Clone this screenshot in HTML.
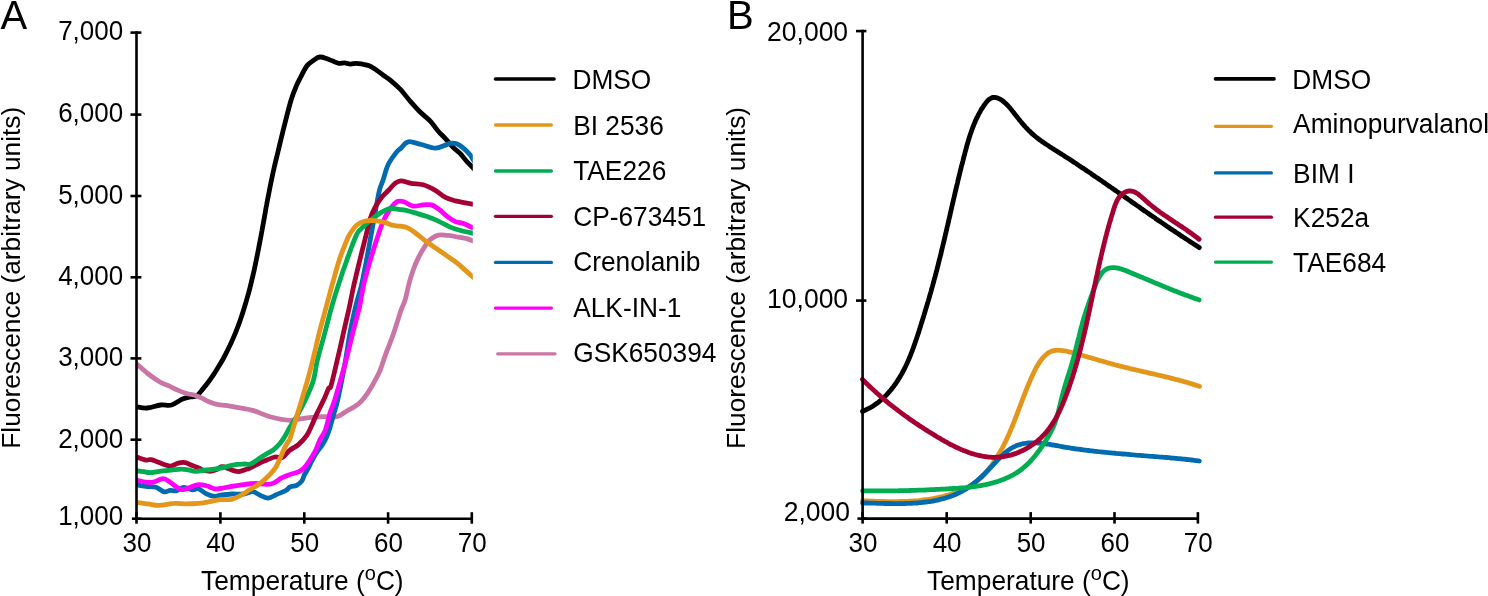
<!DOCTYPE html>
<html><head><meta charset="utf-8"><style>
html,body{margin:0;padding:0;background:#fff;}
body{width:1488px;height:596px;overflow:hidden;}
svg{display:block;will-change:transform;}
text{font-family:"Liberation Sans",sans-serif;fill:#000;}
</style></head><body>
<svg width="1488" height="596" viewBox="0 0 1488 596">
<rect width="1488" height="596" fill="#fff"/>

<g fill="none" stroke-linejoin="round" stroke-linecap="butt">
<clipPath id="ca"><rect x="130" y="0" width="342.8" height="596"/></clipPath>
<g clip-path="url(#ca)">
<path d="M136.5,406.7 C138.2,406.9 143.0,408.3 147.0,408.0 C151.0,407.7 156.5,405.5 160.6,405.0 C164.7,404.5 167.9,406.0 171.6,405.0 C175.2,404.0 179.4,400.3 182.5,399.0 C185.6,397.7 187.7,397.5 190.0,397.0 C192.3,396.5 194.4,397.3 196.5,396.0 C198.6,394.7 200.6,391.7 202.5,389.4 C204.4,387.1 206.4,384.6 208.2,382.2 C210.0,379.8 211.7,377.3 213.4,374.8 C215.1,372.3 216.6,369.8 218.2,367.2 C219.8,364.6 221.4,362.1 222.8,359.5 C224.2,356.9 225.6,354.2 226.9,351.6 C228.2,349.0 229.6,346.3 230.8,343.6 C232.1,340.9 233.2,338.1 234.4,335.4 C235.6,332.7 236.6,330.0 237.7,327.2 C238.8,324.4 239.7,321.6 240.7,318.8 C241.7,316.0 242.6,313.2 243.5,310.3 C244.4,307.4 245.2,304.6 246.1,301.7 C246.9,298.8 247.8,296.0 248.6,293.1 C249.4,290.2 250.1,287.3 250.8,284.4 C251.5,281.5 252.2,278.6 252.9,275.6 C253.6,272.7 254.3,269.6 254.9,266.7 C255.5,263.8 256.1,260.8 256.7,257.9 C257.3,254.9 257.9,252.0 258.5,249.0 C259.1,246.0 259.6,243.1 260.2,240.1 C260.8,237.1 261.3,234.1 261.9,231.1 C262.4,228.1 263.0,225.2 263.5,222.2 C264.0,219.2 264.6,216.3 265.1,213.3 C265.6,210.3 266.1,207.4 266.7,204.4 C267.2,201.4 267.8,198.4 268.4,195.5 C269.0,192.6 269.5,189.6 270.1,186.7 C270.7,183.8 271.3,180.8 271.9,177.9 C272.5,175.0 273.1,172.1 273.8,169.2 C274.5,166.3 275.1,163.5 275.8,160.6 C276.5,157.7 276.6,157.5 278.0,151.7 C279.4,145.9 282.1,134.4 284.3,125.8 C286.5,117.2 289.1,106.5 291.1,100.0 C293.1,93.5 294.5,90.2 296.1,86.5 C297.7,82.8 298.7,81.0 300.5,77.5 C302.3,74.0 304.8,68.7 307.0,65.8 C309.2,62.9 311.9,61.5 314.0,60.0 C316.1,58.5 317.7,57.2 319.9,57.0 C322.1,56.8 324.9,58.1 327.0,58.8 C329.1,59.5 330.9,60.4 332.8,61.1 C334.8,61.9 336.7,63.0 338.7,63.3 C340.7,63.6 342.7,62.8 344.6,62.9 C346.6,63.0 348.4,64.0 350.4,64.1 C352.3,64.2 354.3,63.3 356.3,63.3 C358.3,63.3 360.1,63.7 362.2,64.1 C364.3,64.5 366.8,64.8 369.2,65.8 C371.6,66.8 373.9,68.4 376.3,70.0 C378.7,71.6 381.0,73.5 383.3,75.2 C385.6,76.9 387.4,77.8 390.2,80.1 C393.0,82.4 396.8,85.7 400.2,89.2 C403.6,92.7 406.9,97.5 410.3,101.3 C413.7,105.1 417.0,108.9 420.4,112.3 C423.8,115.7 427.5,118.2 430.5,121.4 C433.5,124.6 436.0,128.6 438.5,131.5 C441.0,134.4 442.9,135.9 445.4,138.6 C447.9,141.3 450.9,145.1 453.4,147.6 C455.8,150.1 457.9,151.1 460.1,153.4 C462.3,155.7 464.8,159.3 466.8,161.5 C468.8,163.7 470.6,165.2 472.1,166.8 C473.6,168.4 475.4,170.3 476.0,171.0" stroke="#000000" stroke-width="4.8"/>
<path d="M136.5,363.8 C138.4,365.4 143.9,370.5 147.7,373.5 C151.5,376.5 156.0,379.6 159.5,381.7 C163.0,383.8 166.0,384.4 168.9,385.8 C171.8,387.2 174.2,388.6 177.1,389.9 C180.0,391.2 183.6,392.6 186.5,393.5 C189.4,394.4 192.2,394.4 194.8,395.2 C197.4,396.0 199.5,397.1 201.8,398.2 C204.2,399.3 206.2,400.6 208.9,401.7 C211.6,402.8 215.3,404.0 218.2,404.6 C221.0,405.2 222.7,404.9 226.0,405.4 C229.3,405.9 233.7,406.7 238.3,407.6 C242.9,408.5 248.1,409.1 253.4,410.6 C258.7,412.1 263.9,415.1 270.0,416.7 C276.1,418.3 283.9,420.1 290.0,420.3 C296.1,420.5 301.2,418.4 306.8,417.8 C312.4,417.2 318.9,416.8 323.6,416.6 C328.3,416.5 332.1,417.2 335.0,416.9 C337.9,416.6 338.8,415.9 341.0,414.8 C343.2,413.7 345.8,411.7 348.1,410.3 C350.5,408.9 352.9,407.8 355.1,406.3 C357.3,404.8 359.4,403.2 361.2,401.3 C363.0,399.4 364.5,397.6 366.2,395.2 C367.9,392.8 369.6,390.0 371.3,387.2 C373.0,384.4 374.8,381.0 376.3,378.1 C377.8,375.2 378.7,374.0 380.3,369.8 C381.9,365.6 384.2,358.2 386.2,352.8 C388.2,347.4 390.3,342.4 392.1,337.5 C393.9,332.6 395.3,328.0 396.8,323.5 C398.3,319.0 399.5,314.5 400.9,310.6 C402.3,306.7 403.7,304.6 405.1,300.0 C406.5,295.4 407.8,288.3 409.1,283.3 C410.4,278.3 411.6,274.4 413.1,270.2 C414.6,266.0 416.5,261.6 418.2,258.1 C419.9,254.6 421.7,251.6 423.2,249.1 C424.7,246.6 425.8,244.7 427.2,243.0 C428.6,241.3 429.4,240.0 431.3,238.7 C433.2,237.4 435.6,235.8 438.5,235.2 C441.4,234.6 445.2,235.1 448.6,235.4 C452.0,235.7 455.6,236.7 458.6,237.2 C461.6,237.7 464.4,238.0 466.7,238.6 C469.0,239.2 471.1,240.1 472.6,240.7 C474.2,241.3 475.4,241.7 476.0,241.9" stroke="#C975A5" stroke-width="4.8"/>
<path d="M136.5,484.7 C138.1,485.0 142.8,485.9 146.1,486.3 C149.4,486.7 153.1,486.4 156.1,487.3 C159.1,488.2 161.8,491.3 164.2,491.8 C166.5,492.3 168.2,490.5 170.2,490.3 C172.2,490.1 174.1,491.3 176.3,490.8 C178.5,490.3 180.6,487.5 183.3,487.3 C186.0,487.1 189.9,489.6 192.4,489.8 C194.9,490.1 196.1,488.1 198.4,488.8 C200.8,489.5 203.8,492.6 206.5,493.8 C209.2,495.1 212.2,496.1 214.5,496.3 C216.8,496.6 217.1,495.7 220.0,495.3 C222.9,494.9 227.8,494.2 231.7,494.0 C235.6,493.8 240.0,494.4 243.5,494.0 C247.0,493.6 250.2,491.5 252.9,491.7 C255.7,491.9 257.4,494.1 260.0,495.2 C262.6,496.3 265.5,498.2 268.2,498.1 C270.9,498.0 273.5,495.9 276.4,494.6 C279.3,493.3 283.5,491.8 285.8,490.5 C288.1,489.2 288.2,487.9 290.0,487.0 C291.8,486.1 294.8,486.3 296.7,485.3 C298.6,484.3 300.4,482.8 301.7,481.1 C303.0,479.4 303.3,477.1 304.3,475.2 C305.3,473.2 306.4,471.8 307.6,469.4 C308.9,467.0 310.4,463.7 311.8,461.0 C313.2,458.3 314.5,455.8 316.0,453.4 C317.5,451.0 319.5,448.9 321.0,446.7 C322.5,444.5 323.8,442.8 325.2,440.0 C326.6,437.2 327.8,434.2 329.2,430.0 C330.6,425.8 332.2,419.5 333.6,414.5 C335.0,409.5 335.9,408.2 337.7,400.0 C339.5,391.8 342.6,376.7 344.7,365.0 C346.8,353.3 348.6,340.0 350.5,330.0 C352.4,320.0 354.2,312.5 356.0,305.0 C357.8,297.5 359.8,292.5 361.5,285.0 C363.2,277.5 364.9,268.5 366.5,260.2 C368.1,251.9 369.5,243.9 371.1,235.0 C372.7,226.1 374.8,214.3 376.2,206.8 C377.6,199.3 378.4,194.5 379.5,190.0 C380.6,185.5 381.7,184.2 383.1,180.0 C384.5,175.8 385.9,169.3 388.1,164.7 C390.3,160.1 394.1,155.4 396.2,152.6 C398.3,149.8 399.0,149.9 401.0,148.1 C403.0,146.3 404.9,142.4 408.3,141.8 C411.7,141.2 416.7,143.4 421.2,144.5 C425.7,145.6 431.3,148.0 435.3,148.1 C439.3,148.2 442.9,145.9 445.4,145.1 C447.8,144.3 448.1,143.5 450.0,143.3 C451.9,143.1 454.5,142.9 456.7,143.7 C458.9,144.5 461.2,146.2 463.4,148.1 C465.6,149.9 468.5,153.0 470.1,154.8 C471.7,156.6 471.8,157.6 472.8,159.1 C473.8,160.6 475.5,163.2 476.0,164.0" stroke="#006BB0" stroke-width="4.8"/>
<path d="M136.5,480.2 C138.1,480.5 143.3,481.9 146.1,482.2 C148.9,482.5 150.2,482.8 153.1,482.2 C155.9,481.6 160.3,478.7 163.2,478.7 C166.0,478.7 167.7,480.6 170.2,482.2 C172.7,483.8 176.1,487.1 178.3,488.3 C180.5,489.5 181.3,489.7 183.3,489.5 C185.3,489.3 187.9,488.1 190.4,487.3 C192.9,486.5 195.7,484.9 198.4,484.7 C201.1,484.4 203.8,485.1 206.5,485.8 C209.2,486.5 212.2,488.4 214.5,488.8 C216.8,489.2 217.1,488.9 220.0,488.5 C222.9,488.1 227.8,487.0 231.7,486.4 C235.6,485.8 239.6,485.1 243.5,484.6 C247.4,484.1 251.3,483.5 255.2,483.5 C259.1,483.5 263.9,484.5 267.0,484.4 C270.1,484.3 271.6,483.9 274.0,482.9 C276.4,481.9 278.4,479.6 281.1,478.2 C283.8,476.8 287.1,475.4 290.0,474.4 C292.9,473.3 296.0,473.0 298.4,471.9 C300.8,470.8 302.5,469.5 304.3,467.7 C306.1,465.9 307.8,463.2 309.3,461.0 C310.8,458.8 312.2,456.5 313.5,454.3 C314.8,452.1 315.8,450.0 316.8,447.6 C317.9,445.2 318.4,442.9 319.8,440.0 C321.2,437.1 323.6,434.7 325.4,430.0 C327.1,425.3 328.8,417.0 330.3,412.0 C331.9,407.0 332.3,407.8 334.7,400.0 C337.1,392.2 341.6,376.9 344.7,365.2 C347.8,353.5 351.0,340.0 353.5,330.0 C356.0,320.0 358.1,312.9 359.8,305.4 C361.5,297.9 361.9,292.5 363.6,285.0 C365.4,277.5 367.9,268.5 370.3,260.2 C372.7,251.9 376.0,241.7 378.2,235.0 C380.4,228.3 381.7,224.6 383.7,220.2 C385.7,215.8 388.2,211.6 390.4,208.5 C392.6,205.4 395.0,202.9 397.1,201.7 C399.2,200.5 400.4,200.8 403.1,201.5 C405.8,202.2 409.8,205.5 413.1,206.1 C416.5,206.7 420.2,205.1 423.2,204.9 C426.2,204.7 428.6,204.1 431.3,204.9 C434.0,205.7 436.6,207.6 439.3,209.5 C442.0,211.4 444.7,214.6 447.4,216.6 C450.1,218.6 452.8,220.4 455.5,221.6 C458.2,222.8 460.7,222.6 463.5,223.6 C466.3,224.6 470.2,226.7 472.3,227.6 C474.4,228.5 475.4,229.0 476.0,229.3" stroke="#FF00FF" stroke-width="4.8"/>
<path d="M136.5,457.0 C138.1,457.5 143.7,459.7 146.1,460.1 C148.5,460.5 148.9,459.2 151.1,459.6 C153.3,460.0 156.0,461.5 159.2,462.6 C162.4,463.7 167.0,466.0 170.2,466.1 C173.4,466.2 175.8,463.7 178.3,463.1 C180.8,462.5 183.0,462.2 185.3,462.6 C187.7,463.0 190.4,464.8 192.4,465.6 C194.4,466.4 195.3,466.5 197.1,467.2 C198.9,467.9 200.8,469.3 203.0,470.0 C205.2,470.7 207.8,471.3 210.0,471.3 C212.2,471.3 214.0,470.6 216.0,469.8 C218.0,469.0 220.0,466.9 222.0,466.7 C224.0,466.5 226.2,467.8 228.0,468.4 C229.8,469.0 231.2,470.0 233.0,470.5 C234.8,471.0 237.0,471.7 239.0,471.6 C241.0,471.5 243.3,470.3 245.0,469.7 C246.7,469.1 247.1,469.2 249.4,468.2 C251.7,467.2 255.9,464.9 258.8,463.5 C261.7,462.1 264.3,461.1 267.0,460.0 C269.7,458.9 272.6,457.4 275.2,457.0 C277.8,456.6 279.9,458.7 282.3,457.6 C284.7,456.5 286.6,452.8 289.3,450.6 C292.0,448.4 295.5,447.1 298.4,444.6 C301.3,442.1 304.6,438.6 306.8,435.4 C309.0,432.2 310.1,428.9 311.8,425.3 C313.5,421.7 314.9,417.8 316.9,413.6 C318.9,409.4 321.7,404.3 323.6,400.1 C325.6,395.9 327.3,390.9 328.6,388.4 C329.9,385.9 329.5,390.9 331.2,385.1 C332.9,379.3 336.6,362.7 338.8,353.5 C341.0,344.3 342.3,338.0 344.1,330.0 C345.9,322.0 348.1,312.9 349.7,305.4 C351.3,297.9 352.2,292.5 353.9,285.0 C355.6,277.5 357.8,268.5 359.8,260.2 C361.8,251.9 364.4,241.9 366.1,235.0 C367.9,228.1 368.8,223.2 370.3,218.5 C371.8,213.8 373.3,210.4 375.3,206.8 C377.3,203.2 379.9,199.5 382.1,196.7 C384.4,193.9 386.7,192.2 388.8,190.0 C390.9,187.8 393.0,184.9 395.0,183.4 C397.0,181.9 398.3,180.8 401.0,180.8 C403.7,180.8 407.4,182.7 411.1,183.4 C414.8,184.1 419.2,183.6 423.2,184.8 C427.2,186.0 431.6,188.3 435.3,190.4 C439.0,192.5 442.0,195.7 445.4,197.4 C448.8,199.2 452.1,200.0 455.5,200.9 C458.9,201.8 462.7,202.4 465.5,202.9 C468.3,203.4 470.6,203.8 472.3,204.1 C474.1,204.4 475.4,204.6 476.0,204.8" stroke="#A50034" stroke-width="4.8"/>
<path d="M136.5,470.6 C137.8,470.8 141.7,471.4 144.0,471.7 C146.3,472.0 147.2,472.8 150.1,472.7 C153.0,472.6 157.7,471.5 161.2,471.1 C164.7,470.7 167.8,470.4 171.2,470.1 C174.5,469.8 178.3,469.1 181.3,469.1 C184.3,469.1 187.1,469.7 189.4,470.1 C191.7,470.5 192.7,471.4 195.0,471.4 C197.3,471.4 200.6,470.6 203.4,470.3 C206.2,470.0 209.0,469.9 211.8,469.5 C214.6,469.1 217.4,468.8 220.2,468.2 C223.0,467.6 225.8,466.7 228.6,466.1 C231.4,465.5 234.3,464.8 237.0,464.4 C239.7,464.0 242.8,464.1 245.0,464.0 C247.2,463.9 248.2,465.0 250.5,464.1 C252.8,463.2 256.1,460.6 258.8,458.8 C261.6,457.0 264.5,455.1 267.0,453.5 C269.5,451.9 271.9,451.1 274.0,449.4 C276.1,447.7 278.1,445.6 279.9,443.5 C281.6,441.4 282.8,439.8 284.5,437.0 C286.2,434.2 287.7,430.9 290.0,427.0 C292.3,423.1 295.6,418.6 298.4,413.6 C301.2,408.6 304.3,402.4 306.8,396.8 C309.3,391.2 311.7,386.1 313.5,380.0 C315.3,373.9 315.5,367.8 317.4,360.0 C319.3,352.2 322.4,342.1 324.8,333.0 C327.2,323.9 329.8,313.4 332.1,305.4 C334.4,297.4 335.9,292.5 338.4,285.0 C340.8,277.5 343.8,268.5 346.8,260.2 C349.8,251.9 353.9,240.3 356.4,235.0 C358.8,229.7 359.5,230.7 361.5,228.5 C363.5,226.3 366.0,224.1 368.6,221.9 C371.2,219.7 374.2,217.2 377.0,215.2 C379.8,213.2 382.9,211.2 385.4,210.1 C387.9,209.0 389.7,208.6 392.1,208.5 C394.5,208.4 397.8,209.3 400.0,209.6 C402.2,209.9 402.6,209.5 405.1,210.1 C407.6,210.7 411.5,211.8 415.2,212.9 C418.9,214.0 423.2,215.2 427.2,216.6 C431.2,218.0 435.3,219.8 439.3,221.6 C443.3,223.4 447.7,226.1 451.4,227.6 C455.1,229.1 458.0,229.8 461.5,230.7 C465.0,231.6 469.9,232.6 472.3,233.1 C474.7,233.6 475.4,233.8 476.0,233.9" stroke="#00AD50" stroke-width="4.8"/>
<path d="M136.5,502.4 C138.4,502.6 144.3,503.4 148.1,503.9 C151.9,504.4 154.8,505.5 159.2,505.4 C163.6,505.3 169.8,503.6 174.3,503.4 C178.8,503.1 182.4,503.9 186.4,503.9 C190.4,503.9 194.7,503.7 198.4,503.4 C202.1,503.1 204.9,502.5 208.5,501.9 C212.1,501.3 216.1,500.0 220.0,499.6 C223.9,499.2 228.2,500.0 231.7,499.3 C235.2,498.6 238.0,496.9 241.1,495.2 C244.2,493.5 247.3,491.2 250.5,489.3 C253.7,487.4 256.9,485.9 260.0,483.5 C263.1,481.1 266.8,477.8 269.3,475.2 C271.8,472.6 273.4,470.9 275.2,468.2 C277.0,465.5 278.5,461.7 279.9,458.8 C281.3,455.9 282.2,453.2 283.4,450.6 C284.6,448.1 285.9,445.5 287.0,443.5 C288.1,441.5 288.7,442.3 290.0,438.7 C291.3,435.1 293.3,427.6 295.0,422.0 C296.7,416.4 298.4,410.8 300.1,405.2 C301.8,399.6 303.9,392.6 305.1,388.4 C306.4,384.2 306.3,384.7 307.6,380.0 C308.9,375.3 310.9,367.8 312.8,360.0 C314.7,352.2 316.9,342.1 319.2,333.0 C321.5,323.9 324.5,313.4 326.6,305.4 C328.8,297.4 330.0,292.5 332.1,285.0 C334.2,277.5 337.1,266.7 339.2,260.2 C341.3,253.7 342.8,250.2 344.5,246.0 C346.2,241.8 347.2,238.5 349.3,235.0 C351.4,231.5 354.2,227.3 356.9,225.0 C359.6,222.7 362.2,221.7 365.3,221.0 C368.4,220.3 372.0,220.4 375.3,220.7 C378.6,221.0 382.6,221.9 385.4,222.7 C388.2,223.4 389.7,224.6 392.1,225.2 C394.5,225.8 397.5,225.7 400.0,226.1 C402.5,226.5 404.6,226.5 407.1,227.6 C409.6,228.7 412.2,230.5 415.2,232.7 C418.2,234.9 421.8,238.2 425.2,240.7 C428.6,243.2 431.7,245.3 435.3,247.8 C438.9,250.3 443.1,253.1 446.6,255.6 C450.2,258.1 453.6,260.2 456.6,262.6 C459.6,265.0 462.1,267.4 464.7,269.7 C467.3,272.0 470.4,274.8 472.3,276.5 C474.2,278.2 475.4,279.3 476.0,279.8" stroke="#E4961A" stroke-width="4.8"/>
</g>
<path d="M862.5,411.3 C862.9,411.2 864.1,410.7 864.9,410.3 C865.7,410.0 866.4,409.6 867.2,409.2 C868.0,408.8 868.7,408.5 869.5,408.1 C870.2,407.6 870.9,407.2 871.7,406.8 C872.4,406.4 873.1,405.9 873.8,405.5 C874.5,405.0 875.2,404.5 875.9,404.0 C876.6,403.6 877.2,403.1 877.9,402.6 C878.6,402.1 879.2,401.5 879.9,401.0 C880.5,400.5 881.1,399.9 881.8,399.4 C882.4,398.8 883.0,398.3 883.6,397.7 C884.2,397.1 884.8,396.5 885.4,396.0 C886.0,395.4 886.6,394.8 887.1,394.2 C887.7,393.5 888.3,392.9 888.8,392.3 C889.4,391.7 889.9,391.0 890.5,390.4 C891.0,389.8 891.5,389.1 892.1,388.4 C892.6,387.8 893.1,387.1 893.6,386.5 C894.1,385.8 894.6,385.1 895.1,384.4 C895.6,383.7 896.0,383.0 896.5,382.3 C897.0,381.6 897.4,380.9 897.9,380.2 C898.3,379.5 898.8,378.8 899.2,378.1 C899.7,377.4 900.1,376.6 900.5,375.9 C901.0,375.2 901.4,374.5 901.8,373.7 C902.2,373.0 902.6,372.2 903.0,371.5 C903.4,370.8 903.8,370.0 904.2,369.3 C904.5,368.5 904.9,367.8 905.3,367.0 C905.6,366.3 906.0,365.5 906.4,364.7 C906.7,364.0 907.1,363.2 907.4,362.5 C907.8,361.7 908.1,360.9 908.4,360.2 C908.8,359.4 909.1,358.6 909.4,357.8 C909.7,357.1 910.1,356.3 910.4,355.5 C910.7,354.7 911.0,354.0 911.3,353.2 C911.6,352.4 911.9,351.6 912.2,350.8 C912.5,350.0 912.8,349.3 913.1,348.5 C913.4,347.7 913.7,346.9 913.9,346.1 C914.2,345.3 914.5,344.5 914.8,343.7 C915.0,342.9 915.3,342.1 915.6,341.3 C915.9,340.6 916.1,339.8 916.4,339.0 C916.7,338.2 916.9,337.4 917.2,336.6 C917.5,335.8 917.7,335.0 918.0,334.2 C918.2,333.4 918.5,332.6 918.8,331.8 C919.0,331.0 919.3,330.2 919.5,329.4 C919.8,328.6 920.0,327.8 920.3,327.0 C920.5,326.2 920.8,325.4 921.0,324.6 C921.3,323.8 921.5,323.0 921.8,322.2 C922.0,321.4 922.3,320.6 922.5,319.8 C922.8,319.0 923.0,318.2 923.3,317.4 C923.5,316.6 923.8,315.8 924.0,315.0 C924.3,314.2 924.5,313.3 924.8,312.5 C925.0,311.7 925.3,310.9 925.5,310.1 C925.7,309.3 926.0,308.5 926.2,307.7 C926.5,306.9 926.7,306.1 926.9,305.3 C927.2,304.5 927.4,303.7 927.7,302.9 C927.9,302.1 928.1,301.3 928.4,300.5 C928.6,299.7 928.8,298.9 929.1,298.1 C929.3,297.3 929.5,296.4 929.8,295.6 C930.0,294.8 930.2,294.0 930.5,293.2 C930.7,292.4 930.9,291.6 931.2,290.8 C931.4,290.0 931.6,289.2 931.8,288.4 C932.1,287.6 932.3,286.8 932.5,286.0 C932.7,285.1 933.0,284.3 933.2,283.5 C933.4,282.7 933.6,281.9 933.8,281.1 C934.1,280.3 934.3,279.5 934.5,278.7 C934.7,277.9 934.9,277.1 935.2,276.2 C935.4,275.4 935.6,274.6 935.8,273.8 C936.0,273.0 936.2,272.2 936.4,271.4 C936.7,270.6 936.9,269.8 937.1,268.9 C937.3,268.1 937.5,267.3 937.7,266.5 C937.9,265.7 938.1,264.9 938.3,264.1 C938.5,263.3 938.7,262.4 938.9,261.6 C939.1,260.8 939.3,260.0 939.5,259.2 C939.7,258.4 940.0,257.6 940.2,256.7 C940.4,255.9 940.6,255.1 940.8,254.3 C941.0,253.5 941.2,252.7 941.3,251.9 C941.5,251.0 941.7,250.2 941.9,249.4 C942.1,248.6 942.3,247.8 942.5,247.0 C942.7,246.2 942.9,245.3 943.1,244.5 C943.3,243.7 943.5,242.9 943.7,242.1 C943.9,241.3 944.1,240.4 944.3,239.6 C944.5,238.8 944.7,238.0 944.9,237.2 C945.0,236.4 945.2,235.6 945.4,234.7 C945.6,233.9 945.8,233.1 946.0,232.3 C946.2,231.5 946.4,230.7 946.6,229.8 C946.8,229.0 946.9,228.2 947.1,227.4 C947.3,226.6 947.5,225.8 947.7,224.9 C947.9,224.1 948.1,223.3 948.3,222.5 C948.5,221.7 948.6,220.8 948.8,220.0 C949.0,219.2 949.2,218.4 949.4,217.6 C949.6,216.8 949.8,215.9 950.0,215.1 C950.1,214.3 950.3,213.5 950.5,212.7 C950.7,211.9 950.9,211.0 951.1,210.2 C951.3,209.4 951.5,208.6 951.6,207.8 C951.8,207.0 952.0,206.1 952.2,205.3 C952.4,204.5 952.6,203.7 952.8,202.9 C953.0,202.1 953.2,201.2 953.3,200.4 C953.5,199.6 953.7,198.8 953.9,198.0 C954.1,197.1 954.3,196.3 954.5,195.5 C954.7,194.7 954.9,193.9 955.0,193.1 C955.2,192.2 955.4,191.4 955.6,190.6 C955.8,189.8 956.0,189.0 956.2,188.2 C956.4,187.3 956.6,186.5 956.8,185.7 C957.0,184.9 957.2,184.1 957.4,183.3 C957.6,182.4 957.8,181.6 957.9,180.8 C958.1,180.0 958.3,179.2 958.5,178.4 C958.7,177.6 958.9,176.7 959.1,175.9 C959.3,175.1 959.5,174.3 959.7,173.5 C959.9,172.7 960.1,171.8 960.3,171.0 C960.5,170.2 960.7,169.4 960.9,168.6 C961.1,167.8 961.3,167.0 961.5,166.1 C961.7,165.3 962.0,164.5 962.2,163.7 C962.4,162.9 962.6,162.1 962.8,161.3 C963.0,160.4 963.2,159.6 963.4,158.8 C963.6,158.0 963.8,157.2 964.0,156.4 C964.2,155.6 964.5,154.8 964.7,153.9 C964.9,153.1 965.1,152.3 965.3,151.5 C965.5,150.7 965.8,149.9 966.0,149.1 C966.2,148.3 966.4,147.4 966.6,146.6 C966.9,145.8 967.1,145.0 967.3,144.2 C967.5,143.4 967.8,142.6 968.0,141.8 C968.3,141.0 968.5,140.2 968.7,139.4 C969.0,138.6 969.2,137.8 969.5,137.0 C969.7,136.2 970.0,135.4 970.2,134.6 C970.5,133.8 970.8,133.0 971.1,132.2 C971.3,131.4 971.6,130.6 971.9,129.8 C972.2,129.0 972.5,128.2 972.8,127.4 C973.1,126.6 973.4,125.9 973.7,125.1 C974.0,124.3 974.3,123.5 974.7,122.8 C975.0,122.0 975.3,121.2 975.7,120.4 C976.0,119.7 976.4,118.9 976.7,118.1 C977.1,117.4 977.5,116.6 977.9,115.9 C978.2,115.1 978.6,114.3 979.0,113.6 C979.4,112.8 979.9,112.1 980.3,111.4 C980.7,110.6 981.1,109.9 981.6,109.1 C982.0,108.4 982.5,107.7 983.0,106.9 C983.4,106.2 983.9,105.5 984.4,104.8 C984.9,104.1 985.4,103.4 986.0,102.7 C986.5,102.1 987.0,101.4 987.6,100.9 C988.2,100.3 988.7,99.7 989.3,99.3 C989.9,98.8 990.6,98.4 991.2,98.1 C991.8,97.8 992.5,97.6 993.2,97.5 C993.9,97.4 994.6,97.4 995.3,97.5 C996.0,97.5 996.8,97.7 997.5,98.0 C998.3,98.3 999.1,98.6 999.8,99.0 C1000.6,99.4 1001.3,99.9 1002.1,100.4 C1002.8,101.0 1003.5,101.5 1004.2,102.1 C1004.9,102.7 1005.6,103.3 1006.3,104.0 C1006.9,104.6 1007.5,105.2 1008.1,105.9 C1008.7,106.5 1009.3,107.2 1009.8,107.8 C1010.4,108.5 1010.9,109.2 1011.5,109.8 C1012.0,110.5 1012.5,111.2 1013.0,111.8 C1013.6,112.5 1014.1,113.2 1014.6,113.8 C1015.1,114.5 1015.7,115.2 1016.2,115.8 C1016.7,116.5 1017.2,117.1 1017.7,117.8 C1018.3,118.5 1018.8,119.1 1019.3,119.8 C1019.9,120.4 1020.4,121.1 1020.9,121.7 C1021.5,122.4 1022.0,123.0 1022.5,123.6 C1023.1,124.3 1023.6,124.9 1024.2,125.5 C1024.7,126.2 1025.3,126.8 1025.8,127.4 C1026.4,128.0 1027.0,128.6 1027.6,129.2 C1028.1,129.8 1028.7,130.4 1029.3,131.0 C1029.9,131.6 1030.5,132.1 1031.1,132.7 C1031.7,133.3 1032.3,133.8 1033.0,134.4 C1033.6,134.9 1034.2,135.5 1034.9,136.0 C1035.5,136.5 1036.1,137.0 1036.8,137.6 C1037.4,138.1 1038.1,138.6 1038.8,139.1 C1039.4,139.6 1040.1,140.1 1040.8,140.6 C1041.5,141.1 1042.1,141.6 1042.8,142.0 C1043.5,142.5 1044.2,143.0 1044.9,143.5 C1045.6,144.0 1046.3,144.4 1047.0,144.9 C1047.7,145.4 1048.4,145.8 1049.1,146.3 C1049.8,146.7 1050.5,147.2 1051.2,147.6 C1051.9,148.1 1052.6,148.6 1053.4,149.0 C1054.1,149.5 1054.8,149.9 1055.5,150.4 C1056.2,150.8 1056.9,151.3 1057.6,151.7 C1058.3,152.2 1059.1,152.6 1059.8,153.1 C1060.5,153.5 1061.2,154.0 1061.9,154.4 C1062.6,154.9 1063.3,155.3 1064.0,155.8 C1064.7,156.2 1065.4,156.7 1066.1,157.1 C1066.9,157.6 1067.6,158.0 1068.3,158.5 C1069.0,158.9 1069.7,159.4 1070.4,159.9 C1071.1,160.3 1071.8,160.8 1072.5,161.2 C1073.2,161.7 1073.9,162.2 1074.6,162.6 C1075.3,163.1 1076.0,163.5 1076.7,164.0 C1077.4,164.5 1078.1,164.9 1078.8,165.4 C1079.4,165.8 1080.1,166.3 1080.8,166.8 C1081.5,167.2 1082.2,167.7 1082.9,168.2 C1083.6,168.6 1084.3,169.1 1085.0,169.6 C1085.7,170.0 1086.4,170.5 1087.1,171.0 C1087.8,171.4 1088.5,171.9 1089.2,172.4 C1089.9,172.9 1090.6,173.3 1091.3,173.8 C1091.9,174.3 1092.6,174.7 1093.3,175.2 C1094.0,175.7 1094.7,176.2 1095.4,176.6 C1096.1,177.1 1096.8,177.6 1097.5,178.1 C1098.2,178.5 1098.9,179.0 1099.6,179.5 C1100.2,180.0 1100.9,180.4 1101.6,180.9 C1102.3,181.4 1103.0,181.9 1103.7,182.3 C1104.4,182.8 1105.1,183.3 1105.8,183.8 C1106.5,184.2 1107.1,184.7 1107.8,185.2 C1108.5,185.7 1109.2,186.2 1109.9,186.6 C1110.6,187.1 1111.3,187.6 1112.0,188.1 C1112.7,188.5 1113.3,189.0 1114.0,189.5 C1114.7,190.0 1115.4,190.5 1116.1,190.9 C1116.8,191.4 1117.5,191.9 1118.2,192.4 C1118.8,192.9 1119.5,193.3 1120.2,193.8 C1120.9,194.3 1121.6,194.8 1122.3,195.3 C1123.0,195.8 1123.7,196.2 1124.4,196.7 C1125.0,197.2 1125.7,197.7 1126.4,198.2 C1127.1,198.6 1127.8,199.1 1128.5,199.6 C1129.2,200.1 1129.9,200.6 1130.5,201.0 C1131.2,201.5 1131.9,202.0 1132.6,202.5 C1133.3,203.0 1134.0,203.5 1134.7,203.9 C1135.4,204.4 1136.0,204.9 1136.7,205.4 C1137.4,205.9 1138.1,206.3 1138.8,206.8 C1139.5,207.3 1140.2,207.8 1140.9,208.3 C1141.6,208.7 1142.2,209.2 1142.9,209.7 C1143.6,210.2 1144.3,210.7 1145.0,211.1 C1145.7,211.6 1146.4,212.1 1147.1,212.6 C1147.8,213.1 1148.4,213.5 1149.1,214.0 C1149.8,214.5 1150.5,215.0 1151.2,215.5 C1151.9,215.9 1152.6,216.4 1153.3,216.9 C1154.0,217.4 1154.7,217.8 1155.4,218.3 C1156.0,218.8 1156.7,219.3 1157.4,219.7 C1158.1,220.2 1158.8,220.7 1159.5,221.2 C1160.2,221.6 1160.9,222.1 1161.6,222.6 C1162.3,223.1 1163.0,223.5 1163.7,224.0 C1164.4,224.5 1165.0,225.0 1165.7,225.4 C1166.4,225.9 1167.1,226.4 1167.8,226.8 C1168.5,227.3 1169.2,227.8 1169.9,228.3 C1170.6,228.7 1171.3,229.2 1172.0,229.7 C1172.7,230.1 1173.4,230.6 1174.1,231.1 C1174.8,231.5 1175.5,232.0 1176.2,232.5 C1176.9,232.9 1177.6,233.4 1178.3,233.9 C1179.0,234.3 1179.7,234.8 1180.4,235.3 C1181.1,235.7 1181.8,236.2 1182.5,236.6 C1183.2,237.1 1183.9,237.6 1184.6,238.0 C1185.3,238.5 1186.0,238.9 1186.7,239.4 C1187.4,239.9 1188.1,240.3 1188.8,240.8 C1189.5,241.2 1190.2,241.7 1190.9,242.1 C1191.6,242.6 1192.3,243.1 1193.0,243.5 C1193.7,244.0 1194.4,244.4 1195.1,244.9 C1195.8,245.3 1196.5,245.8 1197.2,246.2 C1197.9,246.7 1199.0,247.3 1199.3,247.6" stroke="#000000" stroke-width="4.8" stroke-linecap="round"/>
<path d="M862.6,500.9 C863.0,500.9 864.3,500.9 865.1,501.0 C865.9,501.0 866.8,501.0 867.6,501.0 C868.5,501.1 869.3,501.1 870.1,501.1 C871.0,501.2 871.8,501.2 872.7,501.2 C873.5,501.2 874.4,501.3 875.2,501.3 C876.0,501.3 876.9,501.3 877.7,501.4 C878.6,501.4 879.4,501.4 880.3,501.4 C881.1,501.4 882.0,501.5 882.8,501.5 C883.6,501.5 884.5,501.5 885.3,501.5 C886.2,501.5 887.0,501.6 887.9,501.6 C888.7,501.6 889.5,501.6 890.4,501.6 C891.2,501.6 892.1,501.6 892.9,501.6 C893.8,501.6 894.6,501.6 895.4,501.6 C896.3,501.6 897.1,501.6 898.0,501.6 C898.8,501.5 899.6,501.5 900.5,501.5 C901.3,501.5 902.2,501.5 903.0,501.5 C903.8,501.4 904.7,501.4 905.5,501.4 C906.4,501.3 907.2,501.3 908.0,501.3 C908.9,501.2 909.7,501.2 910.6,501.1 C911.4,501.1 912.2,501.0 913.1,501.0 C913.9,500.9 914.7,500.8 915.6,500.8 C916.4,500.7 917.2,500.6 918.1,500.6 C918.9,500.5 919.7,500.4 920.6,500.3 C921.4,500.2 922.2,500.1 923.0,500.0 C923.9,499.9 924.7,499.8 925.5,499.7 C926.4,499.6 927.2,499.5 928.0,499.4 C928.8,499.2 929.7,499.1 930.5,499.0 C931.3,498.8 932.1,498.7 932.9,498.6 C933.8,498.4 934.6,498.3 935.4,498.1 C936.2,497.9 937.0,497.8 937.8,497.6 C938.7,497.4 939.5,497.2 940.3,497.0 C941.1,496.9 941.9,496.7 942.7,496.5 C943.5,496.2 944.3,496.0 945.1,495.8 C946.0,495.6 946.8,495.4 947.6,495.1 C948.4,494.9 949.2,494.7 950.0,494.4 C950.8,494.2 951.6,493.9 952.4,493.6 C953.2,493.4 954.0,493.1 954.7,492.8 C955.5,492.5 956.3,492.2 957.1,491.9 C957.9,491.6 958.7,491.3 959.5,491.0 C960.3,490.7 961.1,490.3 961.8,490.0 C962.6,489.6 963.4,489.3 964.2,488.9 C964.9,488.6 965.7,488.2 966.5,487.8 C967.2,487.4 968.0,487.0 968.7,486.6 C969.5,486.2 970.2,485.8 970.9,485.3 C971.7,484.9 972.4,484.4 973.1,484.0 C973.8,483.5 974.5,483.0 975.2,482.5 C975.8,482.0 976.5,481.5 977.2,481.0 C977.8,480.5 978.5,479.9 979.1,479.4 C979.7,478.8 980.3,478.2 981.0,477.7 C981.6,477.1 982.2,476.5 982.8,475.9 C983.3,475.3 983.9,474.7 984.5,474.1 C985.1,473.4 985.6,472.8 986.2,472.2 C986.7,471.5 987.3,470.9 987.8,470.3 C988.3,469.6 988.8,468.9 989.4,468.3 C989.9,467.6 990.4,467.0 990.9,466.3 C991.4,465.6 991.9,464.9 992.3,464.3 C992.8,463.6 993.3,462.9 993.8,462.2 C994.2,461.5 994.7,460.8 995.2,460.1 C995.6,459.4 996.1,458.8 996.5,458.0 C997.0,457.3 997.4,456.6 997.8,455.9 C998.3,455.2 998.7,454.5 999.1,453.8 C999.5,453.1 999.9,452.3 1000.3,451.6 C1000.7,450.9 1001.1,450.2 1001.5,449.4 C1001.9,448.7 1002.3,448.0 1002.7,447.2 C1003.1,446.5 1003.5,445.8 1003.8,445.0 C1004.2,444.3 1004.6,443.5 1005.0,442.8 C1005.3,442.0 1005.7,441.3 1006.0,440.5 C1006.4,439.8 1006.7,439.0 1007.1,438.3 C1007.4,437.5 1007.8,436.7 1008.1,436.0 C1008.5,435.2 1008.8,434.5 1009.2,433.7 C1009.5,432.9 1009.8,432.2 1010.1,431.4 C1010.5,430.6 1010.8,429.8 1011.1,429.1 C1011.4,428.3 1011.8,427.5 1012.1,426.7 C1012.4,426.0 1012.7,425.2 1013.0,424.4 C1013.3,423.6 1013.7,422.8 1014.0,422.1 C1014.3,421.3 1014.6,420.5 1014.9,419.7 C1015.2,418.9 1015.5,418.1 1015.8,417.3 C1016.1,416.6 1016.4,415.8 1016.7,415.0 C1017.0,414.2 1017.3,413.4 1017.6,412.6 C1017.9,411.8 1018.2,411.0 1018.5,410.2 C1018.8,409.5 1019.1,408.7 1019.4,407.9 C1019.7,407.1 1020.0,406.3 1020.3,405.5 C1020.6,404.7 1020.9,403.9 1021.2,403.1 C1021.5,402.3 1021.8,401.5 1022.1,400.7 C1022.4,400.0 1022.7,399.2 1023.0,398.4 C1023.3,397.6 1023.6,396.8 1023.9,396.0 C1024.2,395.2 1024.5,394.4 1024.8,393.6 C1025.1,392.8 1025.4,392.1 1025.7,391.3 C1026.1,390.5 1026.4,389.7 1026.7,388.9 C1027.0,388.1 1027.3,387.3 1027.6,386.6 C1028.0,385.8 1028.3,385.0 1028.6,384.2 C1028.9,383.4 1029.3,382.7 1029.6,381.9 C1029.9,381.1 1030.3,380.3 1030.6,379.5 C1030.9,378.8 1031.3,378.0 1031.6,377.2 C1032.0,376.5 1032.3,375.7 1032.7,374.9 C1033.0,374.2 1033.4,373.4 1033.7,372.6 C1034.1,371.9 1034.5,371.1 1034.8,370.4 C1035.2,369.6 1035.6,368.8 1036.0,368.1 C1036.4,367.4 1036.8,366.6 1037.3,365.9 C1037.7,365.1 1038.1,364.4 1038.6,363.7 C1039.0,363.0 1039.5,362.3 1040.0,361.5 C1040.5,360.8 1041.0,360.1 1041.5,359.5 C1042.1,358.8 1042.6,358.1 1043.2,357.5 C1043.8,356.8 1044.4,356.2 1045.0,355.6 C1045.6,355.0 1046.2,354.5 1046.8,354.0 C1047.5,353.5 1048.2,353.0 1048.8,352.6 C1049.5,352.2 1050.2,351.8 1050.9,351.5 C1051.6,351.2 1052.4,351.0 1053.1,350.8 C1053.9,350.6 1054.6,350.5 1055.4,350.4 C1056.2,350.3 1057.0,350.2 1057.8,350.2 C1058.5,350.2 1059.4,350.2 1060.2,350.3 C1061.0,350.4 1061.8,350.5 1062.6,350.6 C1063.5,350.7 1064.3,350.8 1065.1,351.0 C1066.0,351.2 1066.8,351.3 1067.6,351.5 C1068.5,351.7 1069.3,351.9 1070.2,352.1 C1071.0,352.4 1071.8,352.6 1072.7,352.8 C1073.5,353.0 1074.4,353.2 1075.2,353.5 C1076.0,353.7 1076.8,353.9 1077.7,354.1 C1078.5,354.4 1079.3,354.6 1080.1,354.8 C1081.0,355.1 1081.8,355.3 1082.6,355.5 C1083.4,355.8 1084.2,356.0 1085.0,356.2 C1085.9,356.5 1086.7,356.7 1087.5,356.9 C1088.3,357.2 1089.1,357.4 1089.9,357.6 C1090.7,357.9 1091.5,358.1 1092.3,358.3 C1093.1,358.6 1093.9,358.8 1094.7,359.0 C1095.5,359.3 1096.3,359.5 1097.1,359.7 C1097.9,360.0 1098.8,360.2 1099.6,360.4 C1100.4,360.7 1101.2,360.9 1102.0,361.1 C1102.8,361.4 1103.6,361.6 1104.4,361.8 C1105.2,362.1 1106.0,362.3 1106.8,362.5 C1107.6,362.7 1108.4,363.0 1109.2,363.2 C1110.0,363.4 1110.8,363.6 1111.6,363.9 C1112.4,364.1 1113.2,364.3 1114.0,364.5 C1114.8,364.7 1115.6,364.9 1116.4,365.2 C1117.2,365.4 1118.0,365.6 1118.8,365.8 C1119.6,366.0 1120.4,366.2 1121.3,366.4 C1122.1,366.6 1122.9,366.8 1123.7,367.0 C1124.5,367.2 1125.3,367.4 1126.1,367.6 C1126.9,367.8 1127.8,368.0 1128.6,368.2 C1129.4,368.4 1130.2,368.6 1131.0,368.8 C1131.8,369.0 1132.7,369.2 1133.5,369.4 C1134.3,369.6 1135.1,369.8 1135.9,370.0 C1136.8,370.2 1137.6,370.3 1138.4,370.5 C1139.2,370.7 1140.0,370.9 1140.9,371.1 C1141.7,371.3 1142.5,371.5 1143.3,371.7 C1144.1,371.9 1145.0,372.0 1145.8,372.2 C1146.6,372.4 1147.4,372.6 1148.3,372.8 C1149.1,373.0 1149.9,373.2 1150.7,373.4 C1151.5,373.6 1152.4,373.7 1153.2,373.9 C1154.0,374.1 1154.8,374.3 1155.7,374.5 C1156.5,374.7 1157.3,374.9 1158.1,375.1 C1158.9,375.3 1159.8,375.5 1160.6,375.6 C1161.4,375.8 1162.2,376.0 1163.0,376.2 C1163.9,376.4 1164.7,376.6 1165.5,376.8 C1166.3,377.0 1167.1,377.2 1168.0,377.4 C1168.8,377.6 1169.6,377.8 1170.4,378.0 C1171.2,378.2 1172.1,378.4 1172.9,378.6 C1173.7,378.8 1174.5,379.0 1175.3,379.3 C1176.1,379.5 1176.9,379.7 1177.8,379.9 C1178.6,380.1 1179.4,380.3 1180.2,380.5 C1181.0,380.8 1181.8,381.0 1182.6,381.2 C1183.4,381.4 1184.2,381.7 1185.1,381.9 C1185.9,382.1 1186.7,382.3 1187.5,382.6 C1188.3,382.8 1189.1,383.0 1189.9,383.3 C1190.7,383.5 1191.5,383.8 1192.3,384.0 C1193.1,384.3 1193.9,384.5 1194.7,384.8 C1195.5,385.0 1196.3,385.3 1197.1,385.5 C1197.9,385.8 1199.1,386.2 1199.5,386.3" stroke="#E4961A" stroke-width="4.8" stroke-linecap="round"/>
<path d="M862.6,502.9 C863.0,502.9 864.3,503.0 865.1,503.0 C865.9,503.0 866.7,503.0 867.5,503.0 C868.3,503.0 869.1,503.1 870.0,503.1 C870.8,503.1 871.6,503.1 872.4,503.1 C873.3,503.2 874.1,503.2 874.9,503.2 C875.7,503.2 876.6,503.2 877.4,503.3 C878.3,503.3 879.1,503.3 879.9,503.3 C880.8,503.4 881.6,503.4 882.5,503.4 C883.3,503.4 884.2,503.4 885.0,503.5 C885.9,503.5 886.7,503.5 887.6,503.5 C888.4,503.5 889.3,503.5 890.1,503.5 C891.0,503.6 891.8,503.6 892.7,503.6 C893.6,503.6 894.4,503.6 895.3,503.6 C896.1,503.6 897.0,503.6 897.9,503.6 C898.7,503.6 899.6,503.6 900.4,503.6 C901.3,503.6 902.2,503.6 903.0,503.6 C903.9,503.5 904.7,503.5 905.6,503.5 C906.5,503.5 907.3,503.4 908.2,503.4 C909.1,503.4 909.9,503.4 910.8,503.3 C911.6,503.3 912.5,503.2 913.3,503.2 C914.2,503.1 915.1,503.1 915.9,503.0 C916.8,503.0 917.6,502.9 918.5,502.8 C919.3,502.7 920.2,502.7 921.0,502.6 C921.9,502.5 922.7,502.4 923.6,502.3 C924.4,502.2 925.3,502.1 926.1,502.0 C927.0,501.9 927.8,501.8 928.6,501.7 C929.5,501.5 930.3,501.4 931.2,501.3 C932.0,501.1 932.8,501.0 933.6,500.8 C934.5,500.7 935.3,500.5 936.1,500.4 C936.9,500.2 937.8,500.0 938.6,499.8 C939.4,499.6 940.2,499.4 941.0,499.2 C941.8,499.0 942.6,498.8 943.4,498.6 C944.2,498.4 945.0,498.2 945.8,497.9 C946.6,497.7 947.4,497.4 948.2,497.2 C949.0,496.9 949.8,496.6 950.6,496.4 C951.3,496.1 952.1,495.8 952.9,495.5 C953.7,495.2 954.4,494.9 955.2,494.5 C955.9,494.2 956.7,493.9 957.5,493.5 C958.2,493.2 958.9,492.8 959.7,492.5 C960.4,492.1 961.2,491.7 961.9,491.3 C962.6,490.9 963.3,490.5 964.1,490.1 C964.8,489.7 965.5,489.3 966.2,488.8 C966.9,488.4 967.6,487.9 968.3,487.5 C969.0,487.0 969.7,486.5 970.4,486.0 C971.0,485.5 971.7,485.0 972.4,484.5 C973.1,484.0 973.7,483.5 974.4,482.9 C975.1,482.4 975.7,481.9 976.4,481.3 C977.0,480.8 977.7,480.2 978.3,479.6 C978.9,479.1 979.6,478.5 980.2,477.9 C980.8,477.3 981.5,476.8 982.1,476.2 C982.7,475.6 983.3,475.0 984.0,474.4 C984.6,473.8 985.2,473.2 985.8,472.5 C986.4,471.9 987.0,471.3 987.6,470.7 C988.2,470.1 988.8,469.4 989.4,468.8 C990.0,468.2 990.6,467.6 991.2,466.9 C991.8,466.3 992.4,465.7 993.0,465.1 C993.6,464.4 994.2,463.8 994.7,463.2 C995.3,462.5 995.9,461.9 996.5,461.3 C997.1,460.7 997.7,460.0 998.3,459.4 C998.8,458.8 999.4,458.2 1000.0,457.6 C1000.6,457.0 1001.2,456.4 1001.8,455.8 C1002.5,455.3 1003.1,454.7 1003.7,454.1 C1004.3,453.6 1004.9,453.0 1005.6,452.5 C1006.2,451.9 1006.9,451.4 1007.5,450.9 C1008.2,450.4 1008.9,449.9 1009.6,449.4 C1010.2,449.0 1010.9,448.5 1011.6,448.1 C1012.3,447.7 1013.1,447.3 1013.8,446.9 C1014.5,446.5 1015.3,446.2 1016.0,445.9 C1016.8,445.5 1017.6,445.3 1018.3,445.0 C1019.1,444.7 1019.9,444.5 1020.7,444.3 C1021.5,444.1 1022.3,443.9 1023.1,443.7 C1023.9,443.6 1024.8,443.4 1025.6,443.3 C1026.4,443.2 1027.2,443.1 1028.1,443.0 C1028.9,442.9 1029.7,442.9 1030.6,442.9 C1031.4,442.8 1032.2,442.8 1033.1,442.8 C1033.9,442.8 1034.8,442.8 1035.6,442.8 C1036.4,442.9 1037.3,442.9 1038.1,443.0 C1039.0,443.0 1039.8,443.1 1040.6,443.2 C1041.5,443.3 1042.3,443.3 1043.2,443.4 C1044.0,443.5 1044.8,443.7 1045.7,443.8 C1046.5,443.9 1047.3,444.0 1048.2,444.2 C1049.0,444.3 1049.9,444.4 1050.7,444.6 C1051.5,444.7 1052.4,444.9 1053.2,445.0 C1054.1,445.2 1054.9,445.3 1055.7,445.5 C1056.6,445.6 1057.4,445.8 1058.2,445.9 C1059.1,446.1 1059.9,446.3 1060.8,446.4 C1061.6,446.5 1062.4,446.7 1063.3,446.8 C1064.1,447.0 1064.9,447.1 1065.8,447.3 C1066.6,447.4 1067.5,447.5 1068.3,447.7 C1069.1,447.8 1070.0,447.9 1070.8,448.1 C1071.7,448.2 1072.5,448.3 1073.3,448.5 C1074.2,448.6 1075.0,448.7 1075.8,448.8 C1076.7,449.0 1077.5,449.1 1078.4,449.2 C1079.2,449.3 1080.0,449.4 1080.9,449.5 C1081.7,449.6 1082.5,449.8 1083.4,449.9 C1084.2,450.0 1085.1,450.1 1085.9,450.2 C1086.7,450.3 1087.6,450.4 1088.4,450.5 C1089.3,450.6 1090.1,450.7 1090.9,450.8 C1091.8,450.9 1092.6,451.0 1093.5,451.1 C1094.3,451.2 1095.1,451.3 1096.0,451.4 C1096.8,451.5 1097.6,451.6 1098.5,451.7 C1099.3,451.7 1100.2,451.8 1101.0,451.9 C1101.8,452.0 1102.7,452.1 1103.5,452.2 C1104.4,452.3 1105.2,452.4 1106.0,452.4 C1106.9,452.5 1107.7,452.6 1108.5,452.7 C1109.4,452.8 1110.2,452.8 1111.1,452.9 C1111.9,453.0 1112.7,453.1 1113.6,453.1 C1114.4,453.2 1115.3,453.3 1116.1,453.4 C1116.9,453.4 1117.8,453.5 1118.6,453.6 C1119.5,453.7 1120.3,453.7 1121.1,453.8 C1122.0,453.9 1122.8,454.0 1123.7,454.0 C1124.5,454.1 1125.3,454.2 1126.2,454.2 C1127.0,454.3 1127.8,454.4 1128.7,454.4 C1129.5,454.5 1130.4,454.6 1131.2,454.7 C1132.0,454.7 1132.9,454.8 1133.7,454.9 C1134.6,454.9 1135.4,455.0 1136.2,455.1 C1137.1,455.1 1137.9,455.2 1138.8,455.3 C1139.6,455.3 1140.4,455.4 1141.3,455.5 C1142.1,455.5 1143.0,455.6 1143.8,455.7 C1144.6,455.7 1145.5,455.8 1146.3,455.9 C1147.2,455.9 1148.0,456.0 1148.8,456.1 C1149.7,456.1 1150.5,456.2 1151.4,456.3 C1152.2,456.3 1153.0,456.4 1153.9,456.5 C1154.7,456.5 1155.6,456.6 1156.4,456.7 C1157.2,456.7 1158.1,456.8 1158.9,456.9 C1159.8,456.9 1160.6,457.0 1161.4,457.1 C1162.3,457.2 1163.1,457.2 1164.0,457.3 C1164.8,457.4 1165.7,457.4 1166.5,457.5 C1167.3,457.6 1168.2,457.7 1169.0,457.7 C1169.9,457.8 1170.7,457.9 1171.5,458.0 C1172.4,458.0 1173.2,458.1 1174.1,458.2 C1174.9,458.3 1175.7,458.4 1176.6,458.4 C1177.4,458.5 1178.3,458.6 1179.1,458.7 C1180.0,458.8 1180.8,458.9 1181.6,458.9 C1182.5,459.0 1183.3,459.1 1184.2,459.2 C1185.0,459.3 1185.8,459.4 1186.7,459.5 C1187.5,459.6 1188.4,459.7 1189.2,459.7 C1190.1,459.8 1190.9,459.9 1191.7,460.0 C1192.6,460.1 1193.4,460.2 1194.3,460.3 C1195.1,460.4 1195.9,460.5 1196.8,460.6 C1197.6,460.7 1198.9,460.9 1199.3,461.0" stroke="#006BB0" stroke-width="4.8" stroke-linecap="round"/>
<path d="M862.6,490.8 C863.0,490.8 864.3,490.8 865.1,490.8 C865.9,490.9 866.8,490.9 867.6,490.9 C868.5,490.9 869.3,490.9 870.1,490.9 C871.0,490.9 871.8,490.9 872.6,490.9 C873.5,490.9 874.3,490.9 875.2,490.9 C876.0,490.9 876.8,490.9 877.7,490.9 C878.5,490.9 879.4,490.9 880.2,490.9 C881.0,490.9 881.9,490.9 882.7,490.9 C883.5,490.9 884.4,490.9 885.2,490.9 C886.1,490.9 886.9,490.9 887.7,490.9 C888.6,490.9 889.4,490.9 890.3,490.9 C891.1,490.9 891.9,490.9 892.8,490.9 C893.6,490.8 894.5,490.8 895.3,490.8 C896.1,490.8 897.0,490.8 897.8,490.8 C898.7,490.8 899.5,490.7 900.3,490.7 C901.2,490.7 902.0,490.7 902.9,490.7 C903.7,490.7 904.5,490.6 905.4,490.6 C906.2,490.6 907.1,490.6 907.9,490.6 C908.7,490.5 909.6,490.5 910.4,490.5 C911.3,490.5 912.1,490.4 912.9,490.4 C913.8,490.4 914.6,490.4 915.5,490.3 C916.3,490.3 917.1,490.3 918.0,490.2 C918.8,490.2 919.7,490.2 920.5,490.2 C921.3,490.1 922.2,490.1 923.0,490.1 C923.8,490.0 924.7,490.0 925.5,490.0 C926.4,489.9 927.2,489.9 928.0,489.8 C928.9,489.8 929.7,489.8 930.6,489.7 C931.4,489.7 932.2,489.7 933.1,489.6 C933.9,489.6 934.7,489.5 935.6,489.5 C936.4,489.5 937.3,489.4 938.1,489.4 C938.9,489.3 939.8,489.3 940.6,489.2 C941.4,489.2 942.3,489.2 943.1,489.1 C944.0,489.1 944.8,489.0 945.6,489.0 C946.5,488.9 947.3,488.9 948.1,488.8 C949.0,488.8 949.8,488.7 950.6,488.7 C951.5,488.6 952.3,488.6 953.1,488.5 C954.0,488.5 954.8,488.4 955.7,488.4 C956.5,488.3 957.3,488.2 958.2,488.2 C959.0,488.1 959.8,488.1 960.7,488.0 C961.5,487.9 962.3,487.9 963.2,487.8 C964.0,487.7 964.8,487.6 965.6,487.6 C966.5,487.5 967.3,487.4 968.1,487.3 C969.0,487.2 969.8,487.1 970.6,487.0 C971.5,486.9 972.3,486.8 973.1,486.7 C974.0,486.6 974.8,486.5 975.6,486.4 C976.4,486.3 977.3,486.2 978.1,486.0 C978.9,485.9 979.8,485.8 980.6,485.6 C981.4,485.5 982.2,485.3 983.1,485.2 C983.9,485.0 984.7,484.8 985.5,484.7 C986.4,484.5 987.2,484.3 988.0,484.1 C988.8,483.9 989.7,483.7 990.5,483.5 C991.3,483.3 992.1,483.1 992.9,482.9 C993.8,482.6 994.6,482.4 995.4,482.2 C996.2,481.9 997.0,481.7 997.8,481.4 C998.6,481.1 999.4,480.9 1000.2,480.6 C1001.0,480.3 1001.8,480.0 1002.6,479.7 C1003.4,479.4 1004.1,479.1 1004.9,478.8 C1005.7,478.5 1006.5,478.1 1007.2,477.8 C1008.0,477.4 1008.8,477.1 1009.5,476.7 C1010.3,476.3 1011.0,476.0 1011.7,475.6 C1012.5,475.2 1013.2,474.8 1013.9,474.4 C1014.7,474.0 1015.4,473.5 1016.1,473.1 C1016.8,472.7 1017.5,472.2 1018.2,471.7 C1018.9,471.3 1019.5,470.8 1020.2,470.3 C1020.9,469.8 1021.5,469.3 1022.2,468.8 C1022.8,468.3 1023.5,467.8 1024.1,467.2 C1024.7,466.7 1025.4,466.1 1026.0,465.6 C1026.6,465.0 1027.2,464.4 1027.8,463.8 C1028.4,463.3 1029.0,462.7 1029.6,462.1 C1030.2,461.5 1030.7,460.8 1031.3,460.2 C1031.9,459.6 1032.4,459.0 1033.0,458.3 C1033.5,457.7 1034.1,457.1 1034.6,456.4 C1035.2,455.8 1035.7,455.1 1036.2,454.4 C1036.7,453.8 1037.2,453.1 1037.8,452.4 C1038.3,451.7 1038.8,451.1 1039.3,450.4 C1039.8,449.7 1040.3,449.0 1040.7,448.3 C1041.2,447.6 1041.7,446.9 1042.2,446.2 C1042.7,445.5 1043.1,444.8 1043.6,444.1 C1044.0,443.4 1044.5,442.7 1045.0,442.0 C1045.4,441.3 1045.9,440.5 1046.3,439.8 C1046.7,439.1 1047.2,438.4 1047.6,437.7 C1048.0,437.0 1048.4,436.2 1048.9,435.5 C1049.3,434.8 1049.7,434.0 1050.1,433.3 C1050.5,432.6 1050.9,431.8 1051.2,431.1 C1051.6,430.4 1052.0,429.6 1052.3,428.9 C1052.7,428.1 1053.0,427.4 1053.4,426.6 C1053.7,425.8 1054.0,425.1 1054.3,424.3 C1054.6,423.5 1054.9,422.7 1055.2,422.0 C1055.5,421.2 1055.8,420.4 1056.0,419.6 C1056.3,418.8 1056.6,418.0 1056.8,417.2 C1057.0,416.4 1057.3,415.6 1057.5,414.8 C1057.7,414.0 1058.0,413.2 1058.2,412.3 C1058.4,411.5 1058.6,410.7 1058.8,409.9 C1059.0,409.1 1059.2,408.3 1059.4,407.4 C1059.6,406.6 1059.8,405.8 1060.0,405.0 C1060.2,404.1 1060.4,403.3 1060.6,402.5 C1060.8,401.7 1061.0,400.8 1061.2,400.0 C1061.4,399.2 1061.6,398.4 1061.8,397.6 C1062.0,396.7 1062.2,395.9 1062.4,395.1 C1062.6,394.3 1062.8,393.5 1063.1,392.7 C1063.3,391.9 1063.5,391.1 1063.7,390.3 C1064.0,389.5 1064.2,388.7 1064.4,387.9 C1064.7,387.1 1064.9,386.3 1065.1,385.5 C1065.4,384.7 1065.6,383.9 1065.9,383.1 C1066.1,382.3 1066.4,381.5 1066.6,380.7 C1066.8,379.9 1067.1,379.1 1067.3,378.3 C1067.6,377.5 1067.9,376.7 1068.1,375.9 C1068.4,375.2 1068.6,374.4 1068.9,373.6 C1069.1,372.8 1069.4,372.0 1069.6,371.2 C1069.9,370.4 1070.1,369.6 1070.4,368.8 C1070.6,368.0 1070.9,367.2 1071.1,366.4 C1071.3,365.6 1071.6,364.8 1071.8,364.0 C1072.1,363.2 1072.3,362.4 1072.5,361.6 C1072.8,360.8 1073.0,360.0 1073.2,359.2 C1073.5,358.4 1073.7,357.5 1073.9,356.7 C1074.1,355.9 1074.3,355.1 1074.6,354.3 C1074.8,353.5 1075.0,352.6 1075.2,351.8 C1075.4,351.0 1075.6,350.2 1075.8,349.3 C1076.0,348.5 1076.2,347.7 1076.4,346.9 C1076.6,346.0 1076.8,345.2 1077.0,344.4 C1077.2,343.6 1077.4,342.7 1077.6,341.9 C1077.8,341.1 1078.0,340.3 1078.2,339.4 C1078.4,338.6 1078.6,337.8 1078.9,337.0 C1079.1,336.1 1079.3,335.3 1079.5,334.5 C1079.7,333.7 1079.9,332.9 1080.1,332.0 C1080.3,331.2 1080.5,330.4 1080.7,329.6 C1080.9,328.8 1081.1,328.0 1081.3,327.2 C1081.5,326.4 1081.7,325.6 1082.0,324.8 C1082.2,324.0 1082.4,323.2 1082.6,322.4 C1082.8,321.6 1083.1,320.8 1083.3,320.0 C1083.5,319.2 1083.8,318.4 1084.0,317.6 C1084.2,316.9 1084.5,316.1 1084.7,315.3 C1085.0,314.5 1085.2,313.8 1085.5,313.0 C1085.7,312.2 1086.0,311.4 1086.2,310.7 C1086.5,309.9 1086.7,309.1 1087.0,308.4 C1087.3,307.6 1087.5,306.8 1087.8,306.1 C1088.1,305.3 1088.3,304.5 1088.6,303.7 C1088.9,303.0 1089.2,302.2 1089.4,301.4 C1089.7,300.6 1090.0,299.8 1090.3,299.0 C1090.6,298.3 1090.8,297.5 1091.1,296.7 C1091.4,295.9 1091.7,295.1 1092.0,294.3 C1092.3,293.4 1092.6,292.6 1092.9,291.8 C1093.2,291.0 1093.5,290.2 1093.8,289.3 C1094.1,288.5 1094.4,287.7 1094.7,286.8 C1095.0,286.0 1095.4,285.1 1095.7,284.3 C1096.0,283.4 1096.4,282.6 1096.7,281.8 C1097.1,281.0 1097.5,280.1 1097.9,279.4 C1098.3,278.6 1098.7,277.8 1099.2,277.0 C1099.6,276.3 1100.1,275.5 1100.6,274.8 C1101.1,274.1 1101.6,273.4 1102.2,272.8 C1102.7,272.1 1103.3,271.5 1103.9,271.0 C1104.5,270.5 1105.2,270.0 1105.8,269.6 C1106.5,269.2 1107.1,268.8 1107.8,268.5 C1108.5,268.3 1109.2,268.1 1109.9,267.9 C1110.7,267.8 1111.4,267.7 1112.1,267.6 C1112.9,267.6 1113.6,267.6 1114.4,267.6 C1115.2,267.7 1116.0,267.8 1116.7,267.9 C1117.5,268.1 1118.3,268.2 1119.1,268.4 C1119.9,268.6 1120.7,268.9 1121.5,269.1 C1122.4,269.4 1123.2,269.7 1124.0,270.0 C1124.8,270.2 1125.6,270.6 1126.4,270.9 C1127.3,271.2 1128.1,271.5 1128.9,271.9 C1129.7,272.2 1130.5,272.5 1131.3,272.9 C1132.1,273.2 1132.9,273.5 1133.7,273.9 C1134.5,274.2 1135.3,274.5 1136.1,274.9 C1136.9,275.2 1137.7,275.5 1138.5,275.9 C1139.3,276.2 1140.1,276.5 1140.8,276.9 C1141.6,277.2 1142.4,277.5 1143.2,277.8 C1144.0,278.2 1144.7,278.5 1145.5,278.8 C1146.3,279.1 1147.1,279.5 1147.8,279.8 C1148.6,280.1 1149.4,280.4 1150.1,280.8 C1150.9,281.1 1151.7,281.4 1152.4,281.7 C1153.2,282.0 1154.0,282.4 1154.7,282.7 C1155.5,283.0 1156.2,283.3 1157.0,283.6 C1157.8,284.0 1158.5,284.3 1159.3,284.6 C1160.0,284.9 1160.8,285.2 1161.6,285.5 C1162.3,285.9 1163.1,286.2 1163.8,286.5 C1164.6,286.8 1165.4,287.1 1166.1,287.4 C1166.9,287.7 1167.6,288.0 1168.4,288.3 C1169.2,288.7 1169.9,289.0 1170.7,289.3 C1171.5,289.6 1172.2,289.9 1173.0,290.2 C1173.8,290.5 1174.5,290.8 1175.3,291.1 C1176.1,291.4 1176.8,291.7 1177.6,292.0 C1178.4,292.3 1179.2,292.6 1179.9,292.9 C1180.7,293.2 1181.5,293.5 1182.3,293.8 C1183.0,294.1 1183.8,294.4 1184.6,294.7 C1185.4,295.0 1186.2,295.3 1187.0,295.6 C1187.8,295.9 1188.6,296.2 1189.4,296.4 C1190.2,296.7 1191.0,297.0 1191.8,297.3 C1192.6,297.6 1193.4,297.9 1194.2,298.2 C1195.0,298.5 1195.8,298.7 1196.7,299.0 C1197.5,299.3 1198.7,299.7 1199.1,299.9" stroke="#00AD50" stroke-width="4.8" stroke-linecap="round"/>
<path d="M862.4,379.4 C862.7,379.7 863.7,380.6 864.3,381.3 C864.9,381.9 865.5,382.5 866.1,383.1 C866.7,383.7 867.4,384.3 868.0,384.9 C868.6,385.5 869.2,386.1 869.8,386.7 C870.5,387.2 871.1,387.8 871.7,388.4 C872.3,389.0 873.0,389.6 873.6,390.1 C874.2,390.7 874.8,391.3 875.5,391.9 C876.1,392.4 876.7,393.0 877.3,393.5 C878.0,394.1 878.6,394.7 879.2,395.2 C879.9,395.8 880.5,396.3 881.1,396.9 C881.8,397.4 882.4,398.0 883.0,398.5 C883.7,399.0 884.3,399.6 884.9,400.1 C885.6,400.7 886.2,401.2 886.9,401.7 C887.5,402.2 888.1,402.8 888.8,403.3 C889.4,403.8 890.1,404.3 890.7,404.9 C891.4,405.4 892.0,405.9 892.7,406.4 C893.3,406.9 894.0,407.4 894.6,407.9 C895.3,408.4 895.9,408.9 896.6,409.4 C897.2,409.9 897.9,410.4 898.5,410.9 C899.2,411.4 899.9,411.9 900.5,412.4 C901.2,412.9 901.8,413.4 902.5,413.9 C903.2,414.4 903.8,414.9 904.5,415.4 C905.2,415.8 905.8,416.3 906.5,416.8 C907.2,417.3 907.9,417.8 908.5,418.2 C909.2,418.7 909.9,419.2 910.6,419.7 C911.2,420.1 911.9,420.6 912.6,421.1 C913.3,421.5 914.0,422.0 914.7,422.5 C915.4,422.9 916.0,423.4 916.7,423.9 C917.4,424.3 918.1,424.8 918.8,425.3 C919.5,425.7 920.2,426.2 920.9,426.6 C921.6,427.1 922.3,427.5 923.0,428.0 C923.7,428.5 924.4,428.9 925.1,429.4 C925.8,429.8 926.5,430.3 927.3,430.7 C928.0,431.2 928.7,431.6 929.4,432.1 C930.1,432.5 930.8,433.0 931.6,433.4 C932.3,433.8 933.0,434.3 933.7,434.7 C934.5,435.2 935.2,435.6 935.9,436.1 C936.7,436.5 937.4,437.0 938.1,437.4 C938.9,437.8 939.6,438.3 940.4,438.7 C941.1,439.1 941.8,439.6 942.6,440.0 C943.3,440.4 944.1,440.9 944.8,441.3 C945.6,441.7 946.3,442.1 947.1,442.5 C947.9,443.0 948.6,443.4 949.4,443.8 C950.1,444.2 950.9,444.6 951.7,445.0 C952.4,445.4 953.2,445.7 954.0,446.1 C954.7,446.5 955.5,446.9 956.3,447.3 C957.0,447.6 957.8,448.0 958.6,448.3 C959.4,448.7 960.1,449.0 960.9,449.4 C961.7,449.7 962.5,450.1 963.3,450.4 C964.1,450.7 964.8,451.0 965.6,451.3 C966.4,451.6 967.2,451.9 968.0,452.2 C968.8,452.5 969.6,452.8 970.4,453.0 C971.2,453.3 971.9,453.6 972.7,453.8 C973.5,454.1 974.3,454.3 975.1,454.5 C975.9,454.7 976.7,454.9 977.5,455.1 C978.3,455.3 979.1,455.5 979.9,455.7 C980.7,455.9 981.5,456.0 982.4,456.2 C983.2,456.3 984.0,456.5 984.8,456.6 C985.6,456.7 986.4,456.8 987.2,456.9 C988.0,457.0 988.8,457.1 989.6,457.1 C990.5,457.2 991.3,457.2 992.1,457.3 C992.9,457.3 993.7,457.3 994.5,457.3 C995.3,457.3 996.2,457.3 997.0,457.2 C997.8,457.2 998.6,457.2 999.4,457.1 C1000.3,457.0 1001.1,456.9 1001.9,456.8 C1002.7,456.7 1003.5,456.6 1004.4,456.5 C1005.2,456.3 1006.0,456.2 1006.8,456.0 C1007.6,455.8 1008.5,455.6 1009.3,455.4 C1010.1,455.2 1010.9,455.0 1011.7,454.8 C1012.5,454.5 1013.3,454.3 1014.1,454.0 C1014.9,453.7 1015.7,453.5 1016.5,453.2 C1017.3,452.9 1018.1,452.5 1018.9,452.2 C1019.7,451.9 1020.5,451.6 1021.2,451.2 C1022.0,450.8 1022.8,450.5 1023.5,450.1 C1024.3,449.7 1025.1,449.3 1025.8,448.9 C1026.6,448.5 1027.3,448.1 1028.0,447.6 C1028.8,447.2 1029.5,446.8 1030.2,446.3 C1030.9,445.8 1031.6,445.4 1032.3,444.9 C1033.0,444.4 1033.7,443.9 1034.4,443.4 C1035.1,442.9 1035.7,442.4 1036.4,441.9 C1037.0,441.3 1037.7,440.8 1038.3,440.2 C1039.0,439.7 1039.6,439.1 1040.2,438.6 C1040.8,438.0 1041.4,437.4 1042.0,436.8 C1042.6,436.2 1043.1,435.6 1043.7,435.0 C1044.3,434.4 1044.8,433.8 1045.4,433.2 C1045.9,432.6 1046.4,431.9 1047.0,431.3 C1047.5,430.7 1048.0,430.0 1048.5,429.3 C1049.0,428.7 1049.5,428.0 1050.0,427.3 C1050.5,426.7 1050.9,426.0 1051.4,425.3 C1051.9,424.6 1052.3,423.9 1052.8,423.2 C1053.2,422.5 1053.7,421.8 1054.1,421.1 C1054.5,420.4 1054.9,419.7 1055.4,418.9 C1055.8,418.2 1056.2,417.5 1056.6,416.8 C1057.0,416.0 1057.4,415.3 1057.8,414.5 C1058.1,413.8 1058.5,413.0 1058.9,412.3 C1059.3,411.5 1059.6,410.8 1060.0,410.0 C1060.4,409.2 1060.7,408.5 1061.1,407.7 C1061.4,406.9 1061.8,406.2 1062.1,405.4 C1062.4,404.6 1062.8,403.8 1063.1,403.0 C1063.4,402.3 1063.7,401.5 1064.1,400.7 C1064.4,399.9 1064.7,399.1 1065.0,398.3 C1065.3,397.5 1065.6,396.7 1065.9,396.0 C1066.2,395.2 1066.5,394.4 1066.8,393.6 C1067.1,392.8 1067.4,392.0 1067.7,391.2 C1068.0,390.4 1068.3,389.6 1068.5,388.8 C1068.8,388.0 1069.1,387.2 1069.4,386.4 C1069.6,385.6 1069.9,384.8 1070.2,384.0 C1070.5,383.2 1070.7,382.4 1071.0,381.6 C1071.3,380.8 1071.5,380.0 1071.8,379.2 C1072.1,378.4 1072.3,377.6 1072.6,376.8 C1072.8,376.0 1073.1,375.2 1073.3,374.4 C1073.6,373.6 1073.8,372.8 1074.1,372.0 C1074.3,371.2 1074.6,370.4 1074.8,369.6 C1075.0,368.8 1075.3,368.0 1075.5,367.2 C1075.8,366.4 1076.0,365.6 1076.2,364.8 C1076.5,363.9 1076.7,363.1 1076.9,362.3 C1077.1,361.5 1077.4,360.7 1077.6,359.9 C1077.8,359.1 1078.0,358.3 1078.3,357.5 C1078.5,356.7 1078.7,355.9 1078.9,355.1 C1079.1,354.3 1079.3,353.5 1079.6,352.7 C1079.8,351.9 1080.0,351.0 1080.2,350.2 C1080.4,349.4 1080.6,348.6 1080.8,347.8 C1081.0,347.0 1081.2,346.2 1081.4,345.4 C1081.6,344.6 1081.8,343.8 1082.0,343.0 C1082.2,342.1 1082.4,341.3 1082.6,340.5 C1082.8,339.7 1083.0,338.9 1083.2,338.1 C1083.4,337.3 1083.6,336.5 1083.8,335.7 C1084.0,334.8 1084.2,334.0 1084.4,333.2 C1084.6,332.4 1084.8,331.6 1084.9,330.8 C1085.1,330.0 1085.3,329.2 1085.5,328.4 C1085.7,327.5 1085.9,326.7 1086.1,325.9 C1086.2,325.1 1086.4,324.3 1086.6,323.5 C1086.8,322.7 1087.0,321.8 1087.1,321.0 C1087.3,320.2 1087.5,319.4 1087.7,318.6 C1087.9,317.8 1088.0,317.0 1088.2,316.1 C1088.4,315.3 1088.6,314.5 1088.7,313.7 C1088.9,312.9 1089.1,312.1 1089.3,311.3 C1089.4,310.4 1089.6,309.6 1089.8,308.8 C1090.0,308.0 1090.1,307.2 1090.3,306.4 C1090.5,305.5 1090.7,304.7 1090.8,303.9 C1091.0,303.1 1091.2,302.3 1091.4,301.5 C1091.5,300.6 1091.7,299.8 1091.9,299.0 C1092.0,298.2 1092.2,297.4 1092.4,296.6 C1092.6,295.7 1092.7,294.9 1092.9,294.1 C1093.1,293.3 1093.2,292.5 1093.4,291.6 C1093.6,290.8 1093.8,290.0 1093.9,289.2 C1094.1,288.4 1094.3,287.6 1094.4,286.7 C1094.6,285.9 1094.8,285.1 1095.0,284.3 C1095.1,283.5 1095.3,282.6 1095.5,281.8 C1095.7,281.0 1095.8,280.2 1096.0,279.4 C1096.2,278.5 1096.3,277.7 1096.5,276.9 C1096.7,276.1 1096.9,275.3 1097.1,274.4 C1097.2,273.6 1097.4,272.8 1097.6,272.0 C1097.8,271.2 1097.9,270.3 1098.1,269.5 C1098.3,268.7 1098.5,267.9 1098.7,267.1 C1098.8,266.2 1099.0,265.4 1099.2,264.6 C1099.4,263.8 1099.6,263.0 1099.8,262.1 C1099.9,261.3 1100.1,260.5 1100.3,259.7 C1100.5,258.9 1100.7,258.0 1100.9,257.2 C1101.1,256.4 1101.2,255.6 1101.4,254.8 C1101.6,253.9 1101.8,253.1 1102.0,252.3 C1102.2,251.5 1102.4,250.7 1102.6,249.8 C1102.8,249.0 1103.0,248.2 1103.2,247.4 C1103.4,246.6 1103.6,245.7 1103.8,244.9 C1104.0,244.1 1104.2,243.3 1104.4,242.4 C1104.6,241.6 1104.8,240.8 1105.0,240.0 C1105.2,239.2 1105.4,238.3 1105.6,237.5 C1105.9,236.7 1106.1,235.9 1106.3,235.1 C1106.5,234.2 1106.7,233.4 1106.9,232.6 C1107.1,231.8 1107.4,231.0 1107.6,230.1 C1107.8,229.3 1108.0,228.5 1108.3,227.7 C1108.5,226.9 1108.7,226.0 1108.9,225.2 C1109.2,224.4 1109.4,223.6 1109.6,222.7 C1109.9,221.9 1110.1,221.1 1110.4,220.3 C1110.6,219.5 1110.8,218.6 1111.1,217.8 C1111.3,217.0 1111.6,216.2 1111.8,215.4 C1112.1,214.5 1112.3,213.7 1112.6,212.9 C1112.8,212.1 1113.1,211.3 1113.3,210.4 C1113.6,209.6 1113.8,208.8 1114.1,208.0 C1114.4,207.2 1114.7,206.4 1114.9,205.6 C1115.2,204.8 1115.5,204.0 1115.9,203.2 C1116.2,202.5 1116.5,201.7 1116.9,201.0 C1117.2,200.3 1117.6,199.5 1118.0,198.9 C1118.5,198.2 1118.9,197.5 1119.4,196.9 C1119.9,196.3 1120.4,195.7 1120.9,195.2 C1121.4,194.6 1122.0,194.1 1122.7,193.6 C1123.3,193.2 1124.0,192.7 1124.7,192.4 C1125.4,192.0 1126.1,191.6 1126.9,191.4 C1127.7,191.2 1128.5,191.0 1129.3,190.9 C1130.1,190.9 1130.9,190.9 1131.7,191.1 C1132.4,191.2 1133.2,191.5 1134.0,191.8 C1134.7,192.1 1135.5,192.5 1136.2,192.9 C1136.9,193.4 1137.6,193.8 1138.3,194.3 C1139.0,194.8 1139.7,195.4 1140.4,195.9 C1141.0,196.5 1141.7,197.0 1142.3,197.6 C1142.9,198.1 1143.6,198.7 1144.2,199.3 C1144.8,199.9 1145.5,200.5 1146.1,201.0 C1146.7,201.6 1147.4,202.2 1148.0,202.7 C1148.6,203.3 1149.3,203.8 1149.9,204.4 C1150.6,204.9 1151.2,205.4 1151.9,206.0 C1152.5,206.5 1153.2,207.0 1153.9,207.5 C1154.5,208.1 1155.2,208.6 1155.9,209.1 C1156.5,209.6 1157.2,210.1 1157.9,210.6 C1158.5,211.1 1159.2,211.6 1159.9,212.1 C1160.6,212.6 1161.3,213.0 1161.9,213.5 C1162.6,214.0 1163.3,214.5 1164.0,215.0 C1164.7,215.4 1165.4,215.9 1166.1,216.4 C1166.8,216.8 1167.5,217.3 1168.2,217.8 C1168.8,218.2 1169.5,218.7 1170.2,219.2 C1170.9,219.6 1171.6,220.1 1172.3,220.6 C1173.0,221.0 1173.7,221.5 1174.4,221.9 C1175.1,222.4 1175.8,222.9 1176.5,223.3 C1177.2,223.8 1177.9,224.2 1178.6,224.7 C1179.3,225.2 1180.0,225.6 1180.7,226.1 C1181.4,226.5 1182.1,227.0 1182.8,227.5 C1183.5,227.9 1184.2,228.4 1184.9,228.9 C1185.6,229.4 1186.3,229.8 1187.0,230.3 C1187.6,230.8 1188.3,231.3 1189.0,231.7 C1189.7,232.2 1190.4,232.7 1191.1,233.2 C1191.8,233.7 1192.4,234.2 1193.1,234.7 C1193.8,235.2 1194.5,235.7 1195.1,236.2 C1195.8,236.7 1196.5,237.2 1197.2,237.7 C1197.8,238.3 1198.8,239.0 1199.1,239.3" stroke="#A50034" stroke-width="4.8" stroke-linecap="round"/>
</g>
<g stroke="#000" stroke-width="2.6" fill="none" stroke-linecap="butt">
<path d="M136.5,31.3 V518.7 H472.0"/>
<path d="M136.5,512.2 V523.7"/>
<path d="M220.4,512.2 V523.7"/>
<path d="M304.3,512.2 V523.7"/>
<path d="M388.1,512.2 V523.7"/>
<path d="M471.8,512.2 V523.7"/>
<path d="M130.5,32.6 H141.4"/>
<path d="M130.5,114.6 H141.4"/>
<path d="M130.5,196.0 H141.4"/>
<path d="M130.5,277.3 H141.4"/>
<path d="M130.5,358.4 H141.4"/>
<path d="M130.5,439.7 H141.4"/>
<path d="M131.9,518.7 H141.4"/>
</g>
<g stroke="#000" stroke-width="2.6" fill="none" stroke-linecap="butt">
<path d="M862.6,29.8 V518.6 H1198.0"/>
<path d="M862.6,512.1 V523.6"/>
<path d="M946.7,512.1 V523.6"/>
<path d="M1030.7,512.1 V523.6"/>
<path d="M1114.5,512.1 V523.6"/>
<path d="M1197.9,512.1 V523.6"/>
<path d="M856.0,31.1 H866.4"/>
<path d="M856.0,300.6 H866.4"/>
<path d="M857.4,518.6 H866.4"/>
</g>
<text transform="translate(123.20,40.30) scale(1,1.050)" font-size="26" text-anchor="end">7,000</text>
<text transform="translate(123.20,122.10) scale(1,1.050)" font-size="26" text-anchor="end">6,000</text>
<text transform="translate(123.20,203.60) scale(1,1.050)" font-size="26" text-anchor="end">5,000</text>
<text transform="translate(123.20,285.00) scale(1,1.050)" font-size="26" text-anchor="end">4,000</text>
<text transform="translate(123.20,366.00) scale(1,1.050)" font-size="26" text-anchor="end">3,000</text>
<text transform="translate(123.20,447.70) scale(1,1.050)" font-size="26" text-anchor="end">2,000</text>
<text transform="translate(123.20,524.50) scale(1,1.050)" font-size="26" text-anchor="end">1,000</text>
<text transform="translate(848.10,41.10) scale(1,1.050)" font-size="26.5" text-anchor="end">20,000</text>
<text transform="translate(848.10,308.30) scale(1,1.050)" font-size="26.5" text-anchor="end">10,000</text>
<text transform="translate(850.00,520.70) scale(1,1.050)" font-size="26.5" text-anchor="end">2,000</text>
<text transform="translate(136.90,551.50) scale(1,1.050)" font-size="26" text-anchor="middle">30</text>
<text transform="translate(220.80,551.50) scale(1,1.050)" font-size="26" text-anchor="middle">40</text>
<text transform="translate(304.70,551.50) scale(1,1.050)" font-size="26" text-anchor="middle">50</text>
<text transform="translate(388.50,551.50) scale(1,1.050)" font-size="26" text-anchor="middle">60</text>
<text transform="translate(472.20,551.50) scale(1,1.050)" font-size="26" text-anchor="middle">70</text>
<text transform="translate(863.00,551.50) scale(1,1.050)" font-size="26" text-anchor="middle">30</text>
<text transform="translate(947.10,551.50) scale(1,1.050)" font-size="26" text-anchor="middle">40</text>
<text transform="translate(1031.10,551.50) scale(1,1.050)" font-size="26" text-anchor="middle">50</text>
<text transform="translate(1114.90,551.50) scale(1,1.050)" font-size="26" text-anchor="middle">60</text>
<text transform="translate(1198.30,551.50) scale(1,1.050)" font-size="26" text-anchor="middle">70</text>
<text transform="translate(201.1,589.8) scale(1,1.03)" font-size="26.3">Temperature (<tspan font-size="20" dy="-9.4">o</tspan><tspan dy="9.4">C)</tspan></text>
<text transform="translate(927.1,589.8) scale(1,1.03)" font-size="26.3">Temperature (<tspan font-size="20" dy="-9.4">o</tspan><tspan dy="9.4">C)</tspan></text>
<text transform="translate(20.2,448.7) rotate(-90)" font-size="26.3">Fluorescence (arbitrary units)</text>
<text transform="translate(744.8,448.9) rotate(-90)" font-size="26.3">Fluorescence (arbitrary units)</text>
<text x="0.4" y="29.0" font-size="40" text-anchor="start">A</text>
<text x="727.0" y="29.3" font-size="40" text-anchor="start">B</text>
<path d="M495.5,79.0 H554.0" stroke="#000000" stroke-width="3.6" stroke-linecap="round" fill="none"/>
<text transform="translate(572.40,88.90) scale(1,1.040)" font-size="26.3" text-anchor="start">DMSO</text>
<path d="M495.5,125.0 H551.4" stroke="#E4961A" stroke-width="3.3" stroke-linecap="round" fill="none"/>
<text transform="translate(573.20,134.50) scale(1,1.040)" font-size="26.3" text-anchor="start">BI 2536</text>
<path d="M495.5,171.0 H551.4" stroke="#00AD50" stroke-width="3.3" stroke-linecap="round" fill="none"/>
<text transform="translate(573.20,180.00) scale(1,1.040)" font-size="26.3" text-anchor="start">TAE226</text>
<path d="M495.5,216.3 H551.4" stroke="#A50034" stroke-width="3.3" stroke-linecap="round" fill="none"/>
<text transform="translate(573.20,225.60) scale(1,1.040)" font-size="26.3" text-anchor="start">CP-673451</text>
<path d="M495.5,262.4 H551.4" stroke="#006BB0" stroke-width="3.3" stroke-linecap="round" fill="none"/>
<text transform="translate(573.20,271.20) scale(1,1.040)" font-size="26.3" text-anchor="start">Crenolanib</text>
<path d="M495.5,308.1 H551.4" stroke="#FF00FF" stroke-width="3.3" stroke-linecap="round" fill="none"/>
<text transform="translate(573.20,316.70) scale(1,1.040)" font-size="26.3" text-anchor="start">ALK-IN-1</text>
<path d="M497.7,353.8 H555.0" stroke="#C975A5" stroke-width="3.3" stroke-linecap="round" fill="none"/>
<text transform="translate(573.20,362.30) scale(1,1.040)" font-size="26.3" text-anchor="start">GSK650394</text>
<path d="M1215.5,78.9 H1274.0" stroke="#000000" stroke-width="3.6" stroke-linecap="round" fill="none"/>
<text transform="translate(1292.30,88.60) scale(1,1.040)" font-size="26.3" text-anchor="start">DMSO</text>
<path d="M1215.5,126.3 H1271.4" stroke="#E4961A" stroke-width="3.3" stroke-linecap="round" fill="none"/>
<text transform="translate(1293.10,132.90) scale(1,1.040)" font-size="26.3" text-anchor="start">Aminopurvalanol</text>
<path d="M1215.5,172.9 H1271.4" stroke="#006BB0" stroke-width="3.3" stroke-linecap="round" fill="none"/>
<text transform="translate(1293.10,182.50) scale(1,1.040)" font-size="26.3" text-anchor="start">BIM I</text>
<path d="M1215.5,217.2 H1271.4" stroke="#A50034" stroke-width="3.3" stroke-linecap="round" fill="none"/>
<text transform="translate(1293.10,226.80) scale(1,1.040)" font-size="26.3" text-anchor="start">K252a</text>
<path d="M1215.5,262.1 H1271.4" stroke="#00AD50" stroke-width="3.3" stroke-linecap="round" fill="none"/>
<text transform="translate(1293.10,271.60) scale(1,1.040)" font-size="26.3" text-anchor="start">TAE684</text>
</svg>
</body></html>
